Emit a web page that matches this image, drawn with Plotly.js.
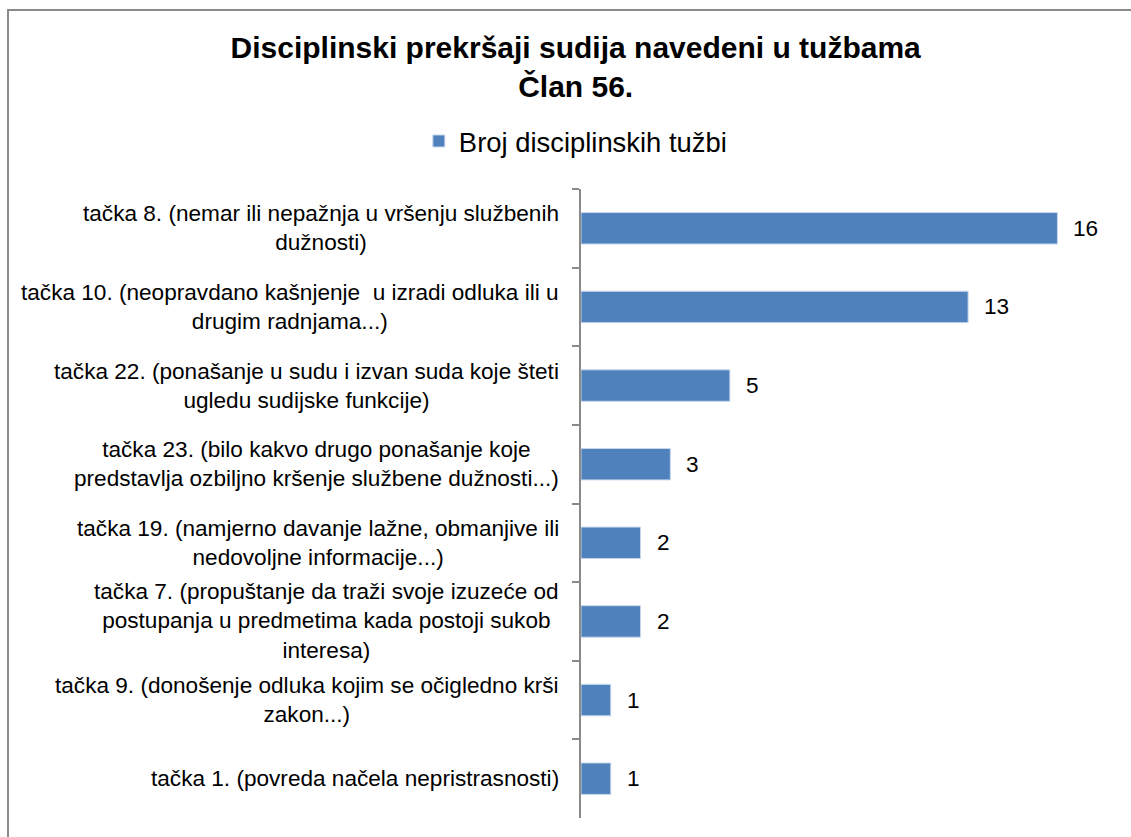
<!DOCTYPE html>
<html>
<head>
<meta charset="utf-8">
<script src="https://cdn.plot.ly/plotly-3.0.1.min.js"></script>
<style>
  html, body { margin: 0; padding: 0; background: #fff; }
  #chart { position: absolute; left: 0; top: 0; width: 1131px; height: 837px; }
  #frame { position: absolute; left: 7px; top: 9px; width: 1200px; height: 900px;
           border-left: 2px solid #8a8a8a; border-top: 2px solid #8a8a8a; pointer-events: none; }
</style>
</head>
<body>
<div id="chart"></div>
<div id="frame"></div>
<script>
const categories = [
  "tačka 8. (nemar ili nepažnja u vršenju službenih<br>dužnosti)",
  "tačka 10. (neopravdano kašnjenje  u izradi odluka ili u<br>drugim radnjama...)",
  "tačka 22. (ponašanje u sudu i izvan suda koje šteti<br>ugledu sudijske funkcije)",
  "tačka 23. (bilo kakvo drugo ponašanje koje<br>predstavlja ozbiljno kršenje službene dužnosti...)",
  "tačka 19. (namjerno davanje lažne, obmanjive ili<br>nedovoljne informacije...)",
  "tačka 7. (propuštanje da traži svoje izuzeće od<br>postupanja u predmetima kada postoji sukob<br>interesa)",
  "tačka 9. (donošenje odluka kojim se očigledno krši<br>zakon...)",
  "tačka 1. (povreda načela nepristrasnosti)"
];
const values = [16, 13, 5, 3, 2, 2, 1, 1];
const seriesName = "Broj disciplinskih tužbi";
const chartTitle = "Disciplinski prekršaji sudija navedeni u tužbama<br>Član 56.";

const FONT = "'Liberation Sans', Arial, sans-serif";

const trace = {
  type: "bar",
  orientation: "h",
  name: seriesName,
  x: values,
  y: categories,
  marker: { color: "#4F81BD", line: { color: "#c9d7ec", width: 1 } },
  hoverinfo: "x+y",
  showlegend: true
};

const annotations = [];
categories.forEach((c, i) => {
  annotations.push({
    xref: "paper", yref: "y", x: 0, y: c, xanchor: "right", yanchor: "middle",
    xshift: -20, text: c, align: "center", showarrow: false,
    font: { family: FONT, size: 22.6, color: "#000" }
  });
  annotations.push({
    xref: "x", yref: "y", x: values[i], y: c, xanchor: "left", yanchor: "middle",
    xshift: 14, text: String(values[i]), showarrow: false,
    font: { family: FONT, size: 22.6, color: "#000" }
  });
});

const layout = {
  width: 1131, height: 837,
  margin: { l: 581, r: 14, t: 189, b: 19 },
  paper_bgcolor: "rgba(0,0,0,0)",
  plot_bgcolor: "rgba(0,0,0,0)",
  font: { family: FONT, color: "#000" },
  title: {
    text: chartTitle,
    font: { family: FONT, size: 30, color: "#000", weight: "bold" },
    xref: "container", yref: "container",
    x: 0.509, xanchor: "center",
    y: 0.931, yanchor: "top"
  },
  showlegend: true,
  legend: {
    orientation: "h",
    x: -0.3025, xanchor: "left",
    y: 1.115, yanchor: "top",
    font: { family: FONT, size: 27.4, color: "#000" },
    bgcolor: "rgba(0,0,0,0)"
  },
  bargap: 0.6,
  xaxis: {
    range: [0, 18],
    showgrid: false, zeroline: false, showline: false,
    showticklabels: false, ticks: "", fixedrange: true
  },
  yaxis: {
    type: "category",
    autorange: "reversed",
    showgrid: false, zeroline: false,
    showline: true, linecolor: "#8a8a8a", linewidth: 2,
    ticks: "outside", tickson: "boundaries", ticklen: 7, tickwidth: 2, tickcolor: "#8a8a8a",
    showticklabels: false, fixedrange: true
  },
  annotations: annotations
};

Plotly.newPlot("chart", [trace], layout, { displayModeBar: false, staticPlot: false });
</script>
</body>
</html>
